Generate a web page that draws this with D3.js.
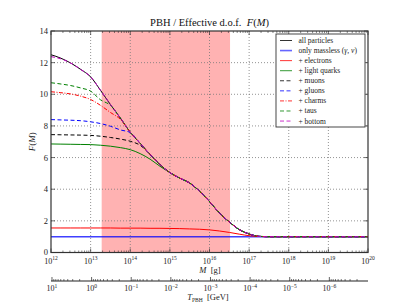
<!DOCTYPE html>
<html><head><meta charset="utf-8">
<script src="https://cdn.jsdelivr.net/npm/d3@7"></script>
<style>
html,body{margin:0;padding:0;background:#fff;}
svg{display:block;font-family:"Liberation Serif","DejaVu Serif",serif;}
</style></head>
<body>
<svg id="c" width="409" height="307"></svg>
<script>
// ---- data ----
const logM = [12,12.25,12.5,12.75,13,13.25,13.5,13.75,14,14.25,14.5,14.75,15,15.25,15.5,15.75,16,16.25,16.5,16.75,17,17.25,17.5,17.75,18,18.25,18.5,18.75,19,19.25,19.5,19.75,20];
const allParticles = [12.5,12.28,11.97,11.57,11.1,10.25,9.35,8.5,7.6,6.9,6.2,5.55,5.05,4.7,4.39,3.87,3.22,2.5,1.93,1.45,1.17,1.02,1.0,1.0,1,1,1,1,1,1,1,1,1];
const onlyMassless = [1,1,1,1,1,1,1,1,1,1,1,1,1,1,1,1,1,1,1,1,1,1,1,1,1,1,1,1,1,1,1,1,1];
const electrons = [1.55,1.55,1.55,1.55,1.55,1.55,1.55,1.54,1.54,1.54,1.53,1.53,1.52,1.51,1.49,1.47,1.43,1.36,1.27,1.16,1.06,1.01,1.0,1.0,1,1,1,1,1,1,1,1,1];
const lightQuarks = [6.86,6.85,6.84,6.83,6.82,6.78,6.72,6.63,6.5,6.25,5.9,5.45,5.05,4.7,4.39,3.87,3.22,2.5,1.93,1.45,1.17,1.02,1.0,1.0,1,1,1,1,1,1,1,1,1];
const muons = [7.45,7.44,7.43,7.42,7.4,7.35,7.27,7.17,7.03,6.78,6.2,5.55,5.05,4.7,4.39,3.87,3.22,2.5,1.93,1.45,1.17,1.02,1.0,1.0,1,1,1,1,1,1,1,1,1];
const gluons = [8.4,8.38,8.36,8.33,8.26,8.15,7.98,7.75,7.58,6.9,6.2,5.55,5.05,4.7,4.39,3.87,3.22,2.5,1.93,1.45,1.17,1.02,1.0,1.0,1,1,1,1,1,1,1,1,1];
const charms = [10.16,10.1,10.02,9.88,9.67,9.3,8.85,8.42,7.6,6.9,6.2,5.55,5.05,4.7,4.39,3.87,3.22,2.5,1.93,1.45,1.17,1.02,1.0,1.0,1,1,1,1,1,1,1,1,1];
const taus = [10.73,10.65,10.55,10.4,10.2,9.65,9.3,8.5,7.6,6.9,6.2,5.55,5.05,4.7,4.39,3.87,3.22,2.5,1.93,1.45,1.17,1.02,1.0,1.0,1,1,1,1,1,1,1,1,1];
const bottom = [12.38,12.24,11.97,11.57,11.1,10.25,9.35,8.5,7.6,6.9,6.2,5.55,5.05,4.7,4.39,3.87,3.22,2.5,1.93,1.45,1.17,1.02,1.0,1.0,1,1,1,1,1,1,1,1,1];
const seriesNames = ["all particles","only massless (\u03b3, \u03bd)","+ electrons","+ light quarks","+ muons","+ gluons","+ charms","+ taus","+ bottom"];
const seriesValues = [allParticles,onlyMassless,electrons,lightQuarks,muons,gluons,charms,taus,bottom];
const seriesColors = ["#000000","#0000ff","#ff0000","#008000","#000000","#0000ff","#ff0000","#008000","#bf00bf"];
const seriesDash = [null,null,null,null,"4,2.5","4,2.5","4,1.5,1,1.5","4,2.5","4,2.5"];
const shadeRange = [1.9e13, 3.3e16];
const yTicks = [0,2,4,6,8,10,12,14];
const mTickExp = [12,13,14,15,16,17,18,19,20];
const tTickExp = [1,0,-1,-2,-3,-4,-5,-6];
const tFactor = 1.058e13; // T_PBH [GeV] = tFactor / M[g]

// ---- layout ----
const L=51, R=368, T=31, B=252.5;
const svg = d3.select("#c");
const x = d3.scaleLog().domain([1e12,1e20]).range([L,R]);
const y = d3.scaleLinear().domain([0,14]).range([B,T]);
const xT = d3.scaleLog().domain([tFactor/1e12, tFactor/1e20]).range([L,R]);

// shaded region
svg.append("rect").attr("x",x(shadeRange[0])).attr("y",T)
  .attr("width",x(shadeRange[1])-x(shadeRange[0])).attr("height",B-T)
  .attr("fill","#ff0000").attr("fill-opacity",0.3);

// grid
const g = svg.append("g");
mTickExp.slice(1,-1).forEach(e=>{
  g.append("line").attr("x1",x(Math.pow(10,e))).attr("x2",x(Math.pow(10,e)))
   .attr("y1",T).attr("y2",B).attr("stroke","#777").attr("stroke-width",0.8).attr("stroke-dasharray","1,2");
});
yTicks.slice(1,-1).forEach(v=>{
  g.append("line").attr("x1",L).attr("x2",R).attr("y1",y(v)).attr("y2",y(v))
   .attr("stroke","#777").attr("stroke-width",0.8).attr("stroke-dasharray","1,2");
});

// lines
const line = d3.line().x((d,i)=>x(Math.pow(10,logM[i]))).y(d=>y(d)).curve(d3.curveMonotoneX);
seriesValues.forEach((vals,k)=>{
  svg.append("path").datum(vals).attr("d",line).attr("fill","none")
    .attr("stroke",seriesColors[k]).attr("stroke-width",k===1?1.6:1)
    .attr("stroke-opacity",k===1?0.75:1)
    .attr("stroke-dasharray",seriesDash[k]);
});

// frame
svg.append("rect").attr("x",L).attr("y",T).attr("width",R-L).attr("height",B-T)
  .attr("fill","none").attr("stroke","#333").attr("stroke-width",1.2);

// ticks on M axis (inward, bottom and top)
const minor = [];
for(let e=12;e<20;e++) for(let m=2;m<=9;m++) minor.push(m*Math.pow(10,e));
minor.forEach(v=>{
  [[B,B-2],[T,T+2]].forEach(p=>svg.append("line").attr("x1",x(v)).attr("x2",x(v)).attr("y1",p[0]).attr("y2",p[1]).attr("stroke","#333").attr("stroke-width",0.6));
});
mTickExp.forEach(e=>{
  const xv = x(Math.pow(10,e));
  [[B,B-4],[T,T+4]].forEach(p=>svg.append("line").attr("x1",xv).attr("x2",xv).attr("y1",p[0]).attr("y2",p[1]).attr("stroke","#333").attr("stroke-width",0.7));
  const t = svg.append("text").attr("x",xv).attr("y",263.5).attr("text-anchor","middle").attr("font-size",8).attr("fill","#222");
  t.append("tspan").text("10");
  t.append("tspan").attr("dy",-3.5).attr("font-size",5.5).text(e);
});
yTicks.forEach(v=>{
  [[L,L+4],[R,R-4]].forEach(p=>svg.append("line").attr("x1",p[0]).attr("x2",p[1]).attr("y1",y(v)).attr("y2",y(v)).attr("stroke","#333").attr("stroke-width",0.7));
  svg.append("text").attr("x",48).attr("y",y(v)+(v===0?2:3)).attr("text-anchor","end").attr("font-size",8.5).attr("fill","#222").text(v);
});

// axis labels
const ml = svg.append("text").attr("x",210).attr("y",273).attr("text-anchor","middle").attr("font-size",8.5).attr("fill","#222");
ml.append("tspan").attr("font-style","italic").text("M");
ml.append("tspan").text("\u2002[g]");

const yl = svg.append("text").attr("transform","translate(35,"+((T+B)/2)+") rotate(-90)").attr("text-anchor","middle").attr("font-size",9).attr("fill","#222");
yl.append("tspan").attr("font-style","italic").text("F");
yl.append("tspan").text("(");
yl.append("tspan").attr("font-style","italic").text("M");
yl.append("tspan").text(")");

// title
const tl = svg.append("text").attr("x",209.5).attr("y",26).attr("text-anchor","middle").attr("font-size",10.5).attr("fill","#111");
tl.append("tspan").text("PBH / Effective d.o.f.\u2002");
tl.append("tspan").attr("font-style","italic").text("F");
tl.append("tspan").text("(");
tl.append("tspan").attr("font-style","italic").text("M");
tl.append("tspan").text(")");

// T axis
const TY = 281;
svg.append("line").attr("x1",L).attr("x2",R).attr("y1",TY).attr("y2",TY).attr("stroke","#222").attr("stroke-width",1.2);
for(let e=-7;e<=1;e++) for(let m=2;m<=9;m++){
  const v=m*Math.pow(10,e); const xv=xT(v);
  if(xv>=L&&xv<=R) svg.append("line").attr("x1",xv).attr("x2",xv).attr("y1",TY).attr("y2",TY-2).attr("stroke","#222").attr("stroke-width",0.6);
}
tTickExp.forEach(e=>{
  const xv = xT(Math.pow(10,e));
  svg.append("line").attr("x1",xv).attr("x2",xv).attr("y1",TY).attr("y2",TY-4).attr("stroke","#222").attr("stroke-width",0.7);
  const t = svg.append("text").attr("x",xv).attr("y",TY+10).attr("text-anchor","middle").attr("font-size",8).attr("fill","#222");
  t.append("tspan").text("10");
  t.append("tspan").attr("dy",-3.5).attr("font-size",5.5).text(e<0?"\u2212"+(-e):e);
});
const tlab = svg.append("text").attr("x",208).attr("y",300).attr("text-anchor","middle").attr("font-size",8.5).attr("fill","#222");
tlab.append("tspan").attr("font-style","italic").text("T");
tlab.append("tspan").attr("font-size",5.5).attr("dy",2).text("PBH");
tlab.append("tspan").attr("dy",-2).text("\u2002[GeV]");

// legend
const lg = svg.append("g");
lg.append("rect").attr("x",276).attr("y",34).attr("width",89).attr("height",93)
  .attr("fill","#fff").attr("stroke","#333").attr("stroke-width",0.9);
seriesNames.forEach((n,k)=>{
  const yy = 40.5 + k*10.07;
  lg.append("line").attr("x1",280).attr("x2",292).attr("y1",yy).attr("y2",yy)
    .attr("stroke",seriesColors[k]).attr("stroke-width",k===1?1.6:1)
    .attr("stroke-opacity",k===1?0.6:0.8)
    .attr("stroke-dasharray",seriesDash[k]);
  const t = lg.append("text").attr("x",298.5).attr("y",yy+2.5).attr("font-size",7.5).attr("fill","#222");
  if(k===1){
    t.append("tspan").text("only massless (");
    t.append("tspan").attr("font-style","italic").text("\u03b3, \u03bd");
    t.append("tspan").text(")");
  } else t.text(n);
});
</script>
</body></html>
